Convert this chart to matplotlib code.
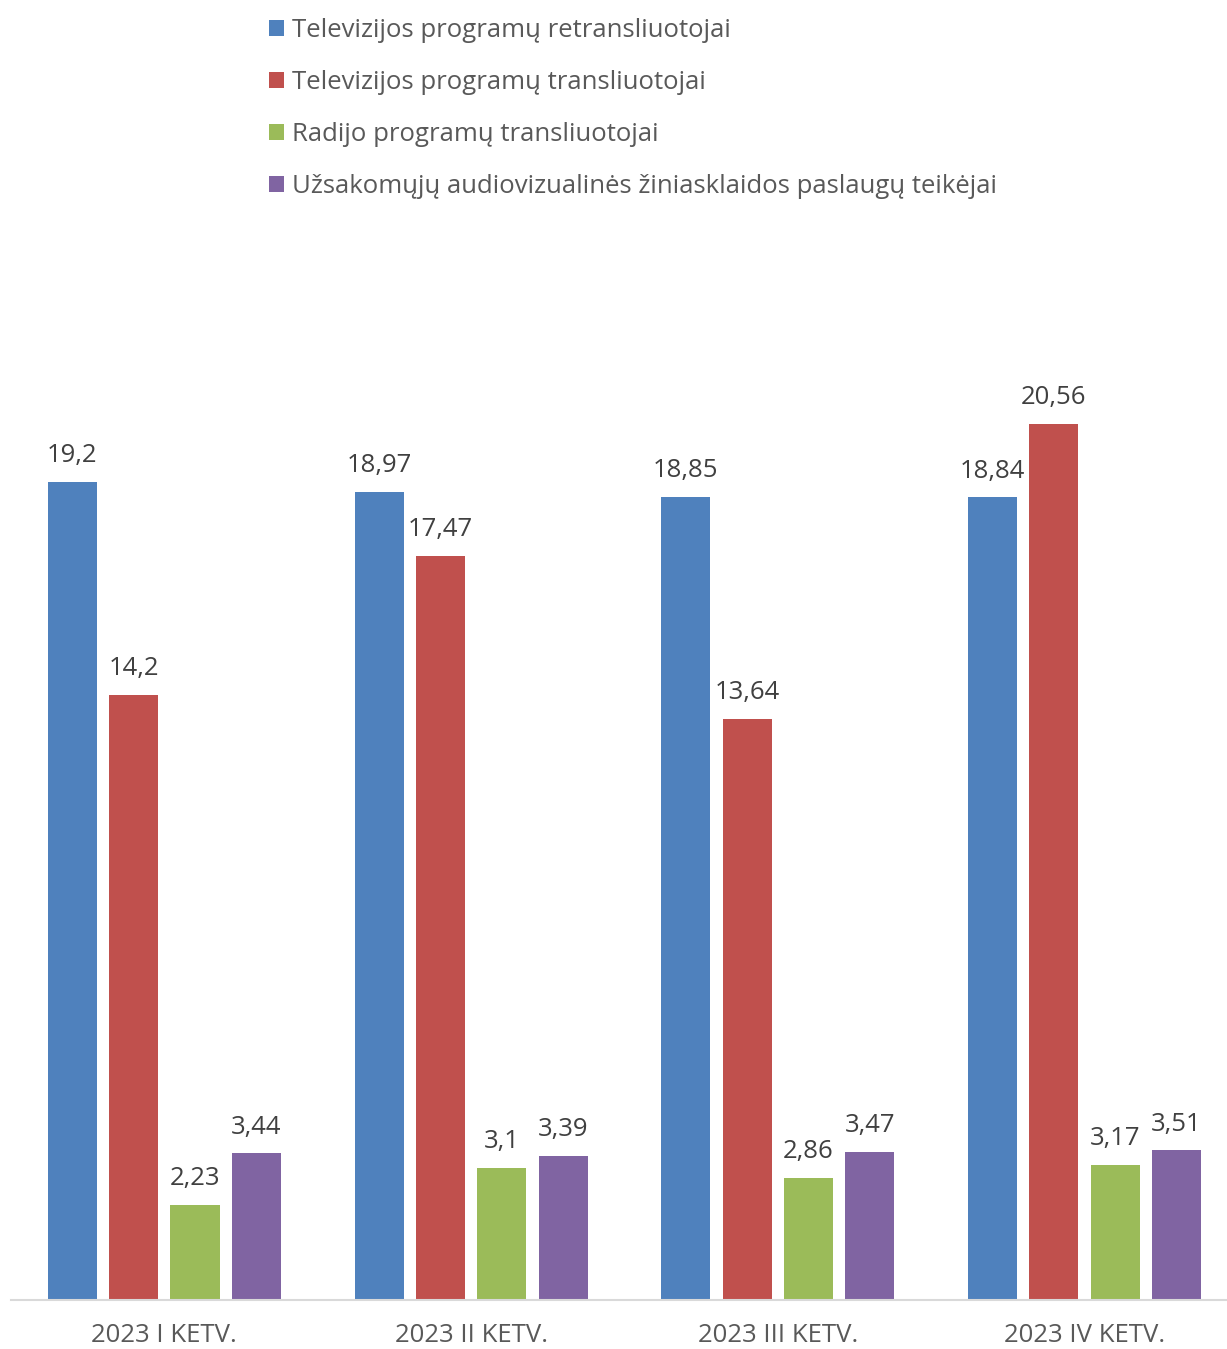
import matplotlib
matplotlib.use("Agg")
import matplotlib.pyplot as plt
from matplotlib.patches import Patch
import numpy as np

plt.rcParams['font.family'] = ['Open Sans', 'DejaVu Sans']

categories = ["2023 I KETV.", "2023 II KETV.", "2023 III KETV.", "2023 IV KETV."]
series_names = [
    "Televizijos programų retransliuotojai",
    "Televizijos programų transliuotojai",
    "Radijo programų transliuotojai",
    "Užsakomųjų audiovizualinės žiniasklaidos paslaugų teikėjai",
]
retransliuotojai = [19.2, 18.97, 18.85, 18.84]
tv_transliuotojai = [14.2, 17.47, 13.64, 20.56]
radijo = [2.23, 3.1, 2.86, 3.17]
uzsakomuju = [3.44, 3.39, 3.47, 3.51]
colors = ["#4F81BD", "#C0504D", "#9BBB59", "#8064A2"]

W, H = 1227, 1349
fig = plt.figure(figsize=(W / 100, H / 100), dpi=100)
ax_left = 11 / W
ax_bottom = (H - 1300) / H
ax_height = (25 * 42.6) / H
ax = fig.add_axes([ax_left, ax_bottom, 1 - ax_left, ax_height])

x = np.arange(len(categories))
width = 0.16
offsets = [-0.3, -0.1, 0.1, 0.3]
all_series = [retransliuotojai, tv_transliuotojai, radijo, uzsakomuju]
for vals, off, col, name in zip(all_series, offsets, colors, series_names):
    bars = ax.bar(x + off, vals, width, color=col, label=name)
    labels = [f"{v:g}".replace('.', ',') for v in vals]
    ax.bar_label(bars, labels=labels, padding=10, fontsize=18.5, color="#404040")

ax.set_xlim(-0.5, -0.5 + (W - 11) / 306.7)
ax.set_ylim(0, 25)
ax.set_xticks(x)
ax.set_xticklabels(categories, fontsize=18.5, color="#595959")
ax.tick_params(axis='x', length=0, pad=16.5)
ax.set_yticks([])
for s in ['top', 'right', 'left']:
    ax.spines[s].set_visible(False)
ax.spines['bottom'].set_color("#D9D9D9")
ax.spines['bottom'].set_linewidth(1.5)

handles = [Patch(facecolor=c) for c in colors]
fig.legend(handles, series_names, loc='upper left',
           bbox_to_anchor=(269 / W, 1 - 18 / H), frameon=False,
           fontsize=18.5, labelcolor="#595959",
           handlelength=0.58, handleheight=0.58, handletextpad=0.32,
           labelspacing=1.05, borderaxespad=0, borderpad=0)

fig.savefig("out.png", dpi=100)
